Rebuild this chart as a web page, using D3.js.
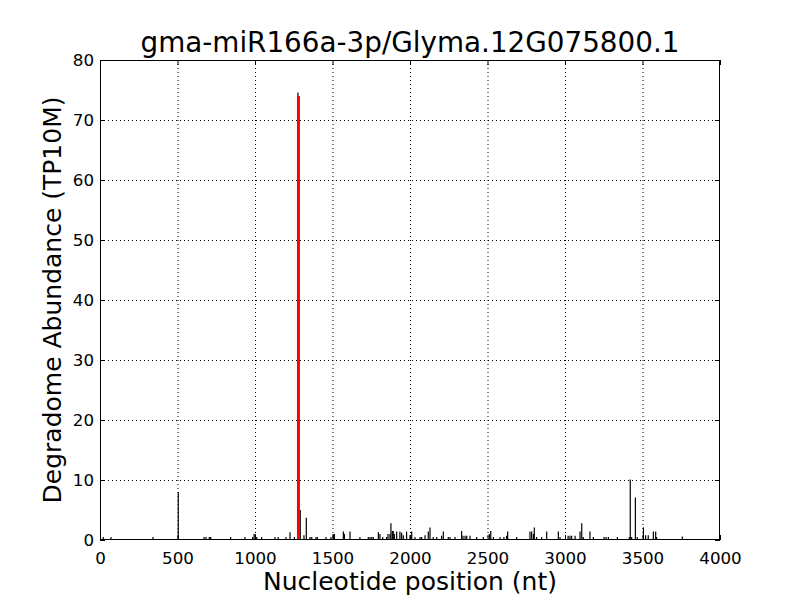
<!DOCTYPE html>
<html><head><meta charset="utf-8">
<script src="https://cdn.jsdelivr.net/npm/d3@7"></script>
<style>body{margin:0;background:#fff}svg{display:block}text{font-family:"DejaVu Sans",sans-serif}</style>
</head><body>
<svg id="c" width="800" height="600"></svg>
<script>
const title = "gma-miR166a-3p/Glyma.12G075800.1";
const xLabel = "Nucleotide position (nt)";
const yLabel = "Degradome Abundance (TP10M)";
const xTicks = [0,500,1000,1500,2000,2500,3000,3500,4000];
const yTicks = [0,10,20,30,40,50,60,70,80];
const positions = [21,71,342,505,671,684,705,714,843,935,985,994,1002,1011,1043,1129,1150,1200,1226,1254,1277,1292,1316,1331,1355,1366,1394,1402,1458,1490,1505,1512,1570,1577,1613,1677,1731,1742,1753,1763,1796,1806,1824,1849,1858,1871,1877,1886,1892,1899,1914,1935,1946,1957,1978,2000,2011,2032,2065,2075,2097,2118,2129,2150,2172,2204,2215,2247,2258,2290,2333,2342,2355,2366,2387,2430,2473,2512,2521,2538,2581,2606,2623,2630,2688,2774,2785,2796,2802,2817,2849,2882,2957,2968,3020,3032,3043,3065,3097,3108,3118,3161,3183,3252,3265,3280,3338,3415,3421,3430,3454,3466,3506,3520,3537,3570,3585,3591,3757];
const abundance = [0.5,0.5,0.5,8,0.5,0.5,0.5,0.5,0.5,0.5,0.5,1,1,0.5,0.5,0.5,0.5,0.5,1.3,0.5,74.6,5,0.8,3.7,0.5,0.5,0.5,0.5,0.5,0.5,1,1,1.4,1,1.4,0.5,0.5,0.5,0.5,0.5,1.3,1,0.5,0.5,1,1,2.8,1.5,1.5,1,1.4,1.4,1.2,0.8,1.4,0.8,1.4,0.5,0.5,0.5,0.8,1.4,2.1,0.5,0.5,0.7,1.4,0.5,0.5,0.5,1.5,0.7,0.7,0.7,0.7,0.5,0.5,1,1.5,0.5,0.5,0.5,0.7,1.4,0.5,1.4,1.4,1,2.1,0.5,0.5,1.4,1.4,0.5,0.7,0.7,0.7,0.7,1.4,2.8,0.5,1.4,0.5,0.5,0.5,0.5,0.5,0.5,10.1,0.5,7.1,0.5,2.1,0.8,0.8,1.4,1.4,0.5,0.6];
const sitePositions = [1277];
const siteAbundance = [74];

const L=100,R=720,T=60,B=540;
const svg=d3.select("#c");
const x=d3.scaleLinear().domain([0,4000]).range([L,R]);
const y=d3.scaleLinear().domain([0,80]).range([B,T]);

// grid
const g=svg.append("g");
g.selectAll("line.gx").data(xTicks.slice(1,-1)).join("line")
 .attr("x1",d=>x(d)+0.5).attr("x2",d=>x(d)+0.5).attr("y1",T).attr("y2",B)
 .attr("stroke","#000").attr("stroke-width",1).attr("stroke-dasharray","1,3");
g.selectAll("line.gy").data(yTicks.slice(1,-1)).join("line")
 .attr("y1",d=>y(d)+0.5).attr("y2",d=>y(d)+0.5).attr("x1",L).attr("x2",R)
 .attr("stroke","#000").attr("stroke-width",1).attr("stroke-dasharray","1,3");

// black lines
svg.append("g").selectAll("line").data(positions.map((p,i)=>[p,abundance[i]])).join("line")
 .attr("x1",d=>x(d[0])).attr("x2",d=>x(d[0])).attr("y1",y(0)).attr("y2",d=>y(d[1]))
 .attr("stroke","#000").attr("stroke-width",1.2);
// red site
svg.append("g").selectAll("line").data(sitePositions.map((p,i)=>[p,siteAbundance[i]])).join("line")
 .attr("x1",d=>x(d[0])+0.5).attr("x2",d=>x(d[0])+0.5).attr("y1",y(0)).attr("y2",d=>y(d[1]))
 .attr("stroke","#ff0000").attr("stroke-width",3);

// frame
svg.append("rect").attr("x",L+0.5).attr("y",T+0.5).attr("width",R-L-1).attr("height",B-T-1)
 .attr("fill","none").attr("stroke","#000").attr("stroke-width",1);

// axes with inward ticks
const fs="16.7px";
const xb=svg.append("g").attr("transform",`translate(0,${B})`)
 .call(d3.axisBottom(x).tickValues(xTicks).tickSize(-5).tickPadding(12).tickFormat(d3.format("d")));
const xt=svg.append("g").attr("transform",`translate(0,${T})`)
 .call(d3.axisTop(x).tickValues(xTicks).tickSize(-5).tickFormat(""));
const yl=svg.append("g").attr("transform",`translate(${L},0)`)
 .call(d3.axisLeft(y).tickValues(yTicks).tickSize(-5).tickPadding(6));
const yr=svg.append("g").attr("transform",`translate(${R},0)`)
 .call(d3.axisRight(y).tickValues(yTicks).tickSize(-5).tickFormat(""));
[xb,xt,yl,yr].forEach(a=>{a.select(".domain").remove();a.selectAll("text").attr("font-size",fs).attr("fill","#000").style("font-family","DejaVu Sans");a.selectAll("line").attr("stroke","#000");});

svg.append("text").attr("x",410).attr("y",52).attr("text-anchor","middle").attr("font-size","27.8px").text(title);
svg.append("text").attr("x",410).attr("y",590).attr("text-anchor","middle").attr("font-size","25px").text(xLabel);
svg.append("text").attr("transform",`translate(61,300) rotate(-90)`).attr("text-anchor","middle").attr("font-size","25px").text(yLabel);
</script>
</body></html>
